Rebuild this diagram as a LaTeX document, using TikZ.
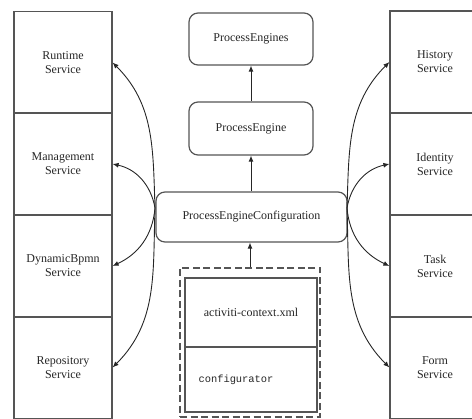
\documentclass[tikz,border=0pt]{standalone}
\usepackage{fontspec}
\setmainfont{Liberation Serif}
\newfontfamily\codefont{Liberation Mono}
\usetikzlibrary{arrows.meta}
\definecolor{ln}{HTML}{555555}
\tikzset{
  svc/.style={draw=ln, line width=1.2pt, minimum width=98pt, minimum height=102pt, align=center, inner sep=0pt, font=\fontsize{12}{14}\selectfont, text=black!85},
  rsvc/.style={svc, minimum width=90pt},
  eng/.style={draw=ln, line width=1.2pt, rounded corners=9pt, align=center, inner sep=0pt, font=\fontsize{12}{14}\selectfont, text=black!85},
  inbox/.style={draw=ln, line width=1.2pt, minimum width=132pt, inner sep=0pt, text=black!85},
  arr/.style={draw=black!85, line width=0.9pt, -{Latex[length=6pt,width=5pt]}},
}
\begin{document}
\begin{tikzpicture}[x=1pt,y=-1pt]
\useasboundingbox (0,0) rectangle (472,419);
% left services
\node[svc] (rt) at (63,62.5) {Runtime\\Service};
\node[svc] (mg) at (63,164) {Management\\Service};
\node[svc] (db) at (63,266) {DynamicBpmn\\Service};
\node[svc] (rp) at (63,367.5) {Repository\\Service};
% right services
\node[rsvc] (hs) at (435,62) {History\\Service};
\node[rsvc] (id) at (435,164) {Identity\\Service};
\node[rsvc] (tk) at (435,266) {Task\\Service};
\node[rsvc] (fm) at (435,367.5) {Form\\Service};
% engines
\node[eng, minimum width=124pt, minimum height=52pt] (pes) at (251,39) {ProcessEngines};
\node[eng, minimum width=124pt, minimum height=53pt] (pe) at (251,128.5) {ProcessEngine};
\node[eng, minimum width=191pt, minimum height=50pt] (pec) at (251.5,217) {ProcessEngineConfiguration};
% config sources
\node[draw=ln, line width=1.1pt, dash pattern=on 7pt off 3.5pt, minimum width=140pt, minimum height=149pt, inner sep=0pt] (cfg) at (250,342.5) {};
\node[inbox, minimum height=69pt, font=\fontsize{12}{14}\selectfont] (ax) at (251,312.5) {activiti-context.xml};
\node[inbox, minimum height=65pt] (cf) at (251,379.5) {};
\node[font=\codefont\fontsize{10.4}{12}\selectfont, text=black!85, inner sep=0pt] (cft) at (236,379.5) {configurator};
% vertical arrows
\draw[arr] (pe.north) -- (pes.south);
\draw[arr] (pec.north -| pe.south) -- (pe.south);
\draw[arr] (cfg.north) -- (pec.south -| cfg.north);
% fork points
\coordinate (lf) at (155,208);
\coordinate (rf) at (347,208);
% left curves
\draw[arr] (lf) to[out=92,in=-45] (rt.east);
\draw[arr] (lf) to[out=100,in=-12] (mg.east);
\draw[arr] (lf) to[out=-95,in=25] (db.east);
\draw[arr] (lf) to[out=-92,in=45] (rp.east);
% right curves
\draw[arr] (rf) to[out=88,in=225] (hs.west);
\draw[arr] (rf) to[out=80,in=192] (id.west);
\draw[arr] (rf) to[out=-85,in=155] (tk.west);
\draw[arr] (rf) to[out=-88,in=135] (fm.west);
\end{tikzpicture}
\end{document}
